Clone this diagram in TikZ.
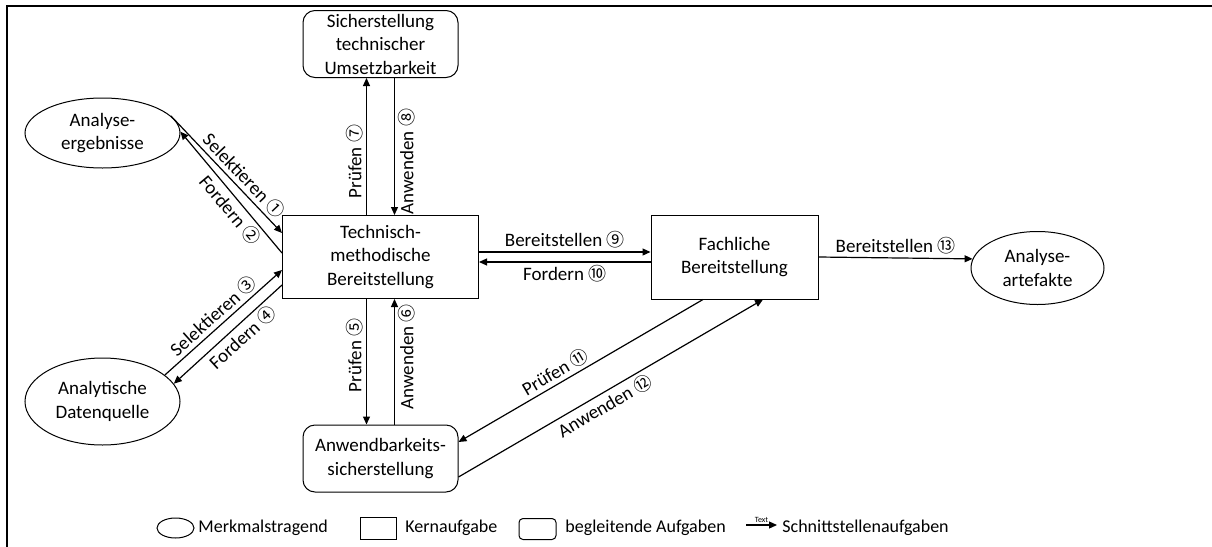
\documentclass[tikz,border=0pt]{standalone}
\usepackage{fontspec}
\setmainfont{Carlito}
\newfontfamily\numfont{Noto Sans CJK JP}
\usetikzlibrary{shapes.geometric,arrows.meta}
\newcommand{\nr}[1]{{\numfont\fontsize{9}{9}\selectfont #1}}

\begin{document}
\begin{tikzpicture}[x=0.5pt, y=-0.5pt, >={Triangle[length=4pt,width=3.5pt]},
  kern/.style = {draw, rectangle, align=center, inner sep=0pt, line width=0.5pt, font=\fontsize{9.5}{11.75}\selectfont},
  begl/.style = {kern, rounded corners=6pt},
  merk/.style = {kern, ellipse},
  conn/.style = {->, line width=0.6pt},
  lbl/.style = {font=\fontsize{9.5}{10}\selectfont, inner sep=1.5pt},
  leg/.style = {anchor=west, inner sep=0pt, font=\fontsize{9}{10}\selectfont}]
  \useasboundingbox (0,0) rectangle (1212,547);
  \draw[line width=1pt] (7,547) -- (7,6) -- (1212,6);

  \node[begl, minimum width=77.5pt, minimum height=33.5pt] (sich) at (380.5,44) {Sicherstellung\\technischer\\Umsetzbarkeit};
  \node[kern, minimum width=98pt, minimum height=41.5pt] (tm) at (380.5,257) {Technisch-\\methodische\\Bereitstellung};
  \node[kern, minimum width=83.5pt, minimum height=42pt] (fb) at (734.5,257) {Fachliche\\Bereitstellung};
  \node[merk, minimum width=77.5pt, minimum height=35pt] (ergeb) at (102.5,133) {Analyse-\\ergebnisse};
  \node[merk, minimum width=77.5pt, minimum height=43.5pt] (quelle) at (102.5,401.5) {Analytische\\Datenquelle};
  \node[merk, minimum width=66.5pt, minimum height=36.5pt] (art) at (1037.5,268) {Analyse-\\artefakte};
  \node[begl, minimum width=77.5pt, minimum height=33.5pt] (anw) at (380.5,458.5) {Anwendbarkeits-\\sicherstellung};

  \draw[conn] (ergeb.14) -- ([yshift=12pt]tm.west) node[lbl, sloped, above, pos=0.58] {Selektieren \nr{①}};
  \draw[conn] ([yshift=2pt]tm.west) -- (ergeb.1) node[lbl, sloped, below, pos=0.42] {Fordern \nr{②}};
  \draw[conn] (quelle.23) -- ([yshift=-6.5pt]tm.west) node[lbl, sloped, above, pos=0.48] {Selektieren \nr{③}};
  \draw[conn] ([yshift=-14pt]tm.west) -- (quelle.14) node[lbl, sloped, below, pos=0.44] {Fordern \nr{④}};

  \draw[conn] ([xshift=-7pt]tm.south) -- ([xshift=-7pt]anw.north) node[lbl, rotate=90, anchor=south, pos=0.45] {Prüfen \nr{⑤}};
  \draw[conn] ([xshift=7pt]anw.north) -- ([xshift=7pt]tm.south) node[lbl, rotate=90, anchor=north, pos=0.54] {Anwenden \nr{⑥}};
  \draw[conn] ([xshift=-7pt]tm.north) -- ([xshift=-7pt]sich.south) node[lbl, rotate=90, anchor=south, pos=0.39] {Prüfen \nr{⑦}};
  \draw[conn] ([xshift=7pt]sich.south) -- ([xshift=7pt]tm.north) node[lbl, rotate=90, anchor=north, pos=0.61] {Anwenden \nr{⑧}};

  \draw[conn] ([yshift=2.5pt]tm.east) -- ([yshift=2.5pt]fb.west) node[lbl, above, midway] {Bereitstellen \nr{⑨}};
  \draw[conn] ([yshift=-2.5pt]fb.west) -- ([yshift=-2.5pt]tm.east) node[lbl, below, midway] {Fordern \nr{⑩}};
  \draw[conn] ([xshift=-15.75pt]fb.south) -- ([yshift=8.25pt]anw.east) node[lbl, sloped, above, pos=0.58] {Prüfen \nr{⑪}};
  \draw[conn] ([yshift=-9.25pt]anw.east) -- ([xshift=14.25pt]fb.south) node[lbl, sloped, below, pos=0.46] {Anwenden \nr{⑫}};
  \draw[conn] (fb.east) -- (art.172) node[lbl, above, midway] {Bereitstellen \nr{⑬}};

  \node[merk, minimum width=18.5pt, minimum height=10pt] (lm) at (175.5,528) {};
  \node[leg] (lmt) at (198,528) {Merkmalstragend};
  \node[kern, minimum width=18pt, minimum height=11pt] (lk) at (378,528) {};
  \node[leg] (lkt) at (405,528) {Kernaufgabe};
  \node[begl, rounded corners=2pt, minimum width=18.5pt, minimum height=10.5pt] (lb) at (537.5,529) {};
  \node[leg] (lbt) at (565,528) {begleitende Aufgaben};
  \coordinate (la) at (746,525);
  \coordinate (lz) at (777,525);
  \draw[conn] (la) -- (lz) node[midway, above, inner sep=1pt, font=\fontsize{4}{4}\selectfont] {Text};
  \node[leg] (lst) at (782,528) {Schnittstellenaufgaben};
\end{tikzpicture}
\end{document}
